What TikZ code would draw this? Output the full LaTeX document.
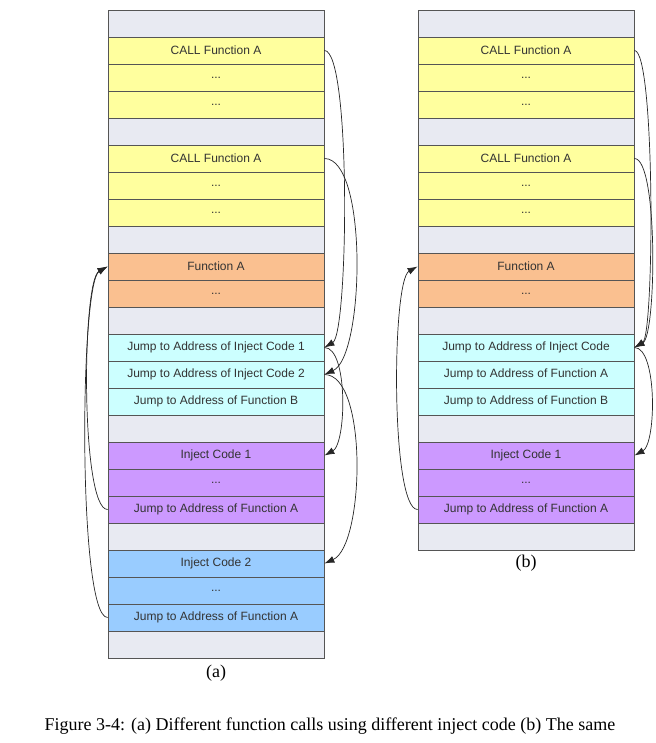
\documentclass[tikz,border=0pt]{standalone}
\usepackage{fontspec}
\setmainfont{Liberation Serif}
\newfontfamily\boxfont{Liberation Sans}
\usetikzlibrary{arrows.meta}
\definecolor{cgray}{HTML}{E8EAF2}
\definecolor{cyel}{HTML}{FFFF9E}
\definecolor{corg}{HTML}{FAC090}
\definecolor{ccyan}{HTML}{CCFFFF}
\definecolor{cpur}{HTML}{CC99FF}
\definecolor{cblue}{HTML}{99CCFF}
\definecolor{cline}{HTML}{555555}
\definecolor{ctext}{HTML}{333333}
\begin{document}
\begin{tikzpicture}[x=1pt,y=-1pt,
  cell/.style={draw=cline, line width=0.8pt, minimum width=216pt, minimum height=27pt, inner sep=0pt,
    font=\boxfont\fontsize{12}{14}\selectfont, text=ctext},
  link/.style={draw=black!85, line width=0.7pt, -{Latex[length=10pt,width=7pt]}},
  lbl/.style={font=\fontsize{18}{20}\selectfont, inner sep=0pt}]
\useasboundingbox (0,0) rectangle (655,743);
\fill[white] (0,0) rectangle (655,743);
% column (a)
\foreach \col/\txt [count=\i from 0] in {
  cgray/{}, cyel/{CALL Function A}, cyel/{...}, cyel/{...},
  cgray/{}, cyel/{CALL Function A}, cyel/{...}, cyel/{...},
  cgray/{}, corg/{Function A}, corg/{...}, cgray/{},
  ccyan/{Jump to Address of Inject Code 1}, ccyan/{Jump to Address of Inject Code 2}, ccyan/{Jump to Address of Function B},
  cgray/{}, cpur/{Inject Code 1}, cpur/{...}, cpur/{Jump to Address of Function A},
  cgray/{}, cblue/{Inject Code 2}, cblue/{...}, cblue/{Jump to Address of Function A}, cgray/{}} {
  \node[cell, fill=\col] (a\i) at (216, 23.5+27*\i) {\txt};
}
% column (b)
\foreach \col/\txt [count=\i from 0] in {
  cgray/{}, cyel/{CALL Function A}, cyel/{...}, cyel/{...},
  cgray/{}, cyel/{CALL Function A}, cyel/{...}, cyel/{...},
  cgray/{}, corg/{Function A}, corg/{...}, cgray/{},
  ccyan/{Jump to Address of Inject Code}, ccyan/{Jump to Address of Function A}, ccyan/{Jump to Address of Function B},
  cgray/{}, cpur/{Inject Code 1}, cpur/{...}, cpur/{Jump to Address of Function A}, cgray/{}} {
  \node[cell, fill=\col] (b\i) at (526, 23.5+27*\i) {\txt};
}
% arrows (a)
\draw[link] (a1.east) .. controls +(27,0) and +(24,-14) .. (a12.east);
\draw[link] (a5.east) .. controls +(44,0) and +(40,-18) .. (a13.east);
\draw[link] (a12.east) .. controls +(24,0) and +(22,-12) .. (a16.east);
\draw[link] (a13.east) .. controls +(44,0) and +(40,-18) .. (a20.east);
\draw[link] (a18.west) .. controls +(-27,0) and +(-26,14) .. (a9.west);
\draw[link] (a22.west) .. controls +(-30,0) and +(-28,16) .. (a9.west);
% arrows (b)
\draw[link] (b1.east) .. controls +(21,0) and +(20,-12) .. (b12.east);
\draw[link] (b5.east) .. controls +(24,0) and +(22,-12) .. (b12.east);
\draw[link] (b12.east) .. controls +(23,0) and +(22,-12) .. (b16.east);
\draw[link] (b18.west) .. controls +(-27,0) and +(-26,14) .. (b9.west);
% labels
\node[lbl] (la) at (216,673) {(a)};
\node[lbl] (lb) at (526,563) {(b)};
\node[lbl] (cap) at (330,726) {Figure 3-4: (a) Different function calls using different inject code (b) The same};
\end{tikzpicture}
\end{document}
